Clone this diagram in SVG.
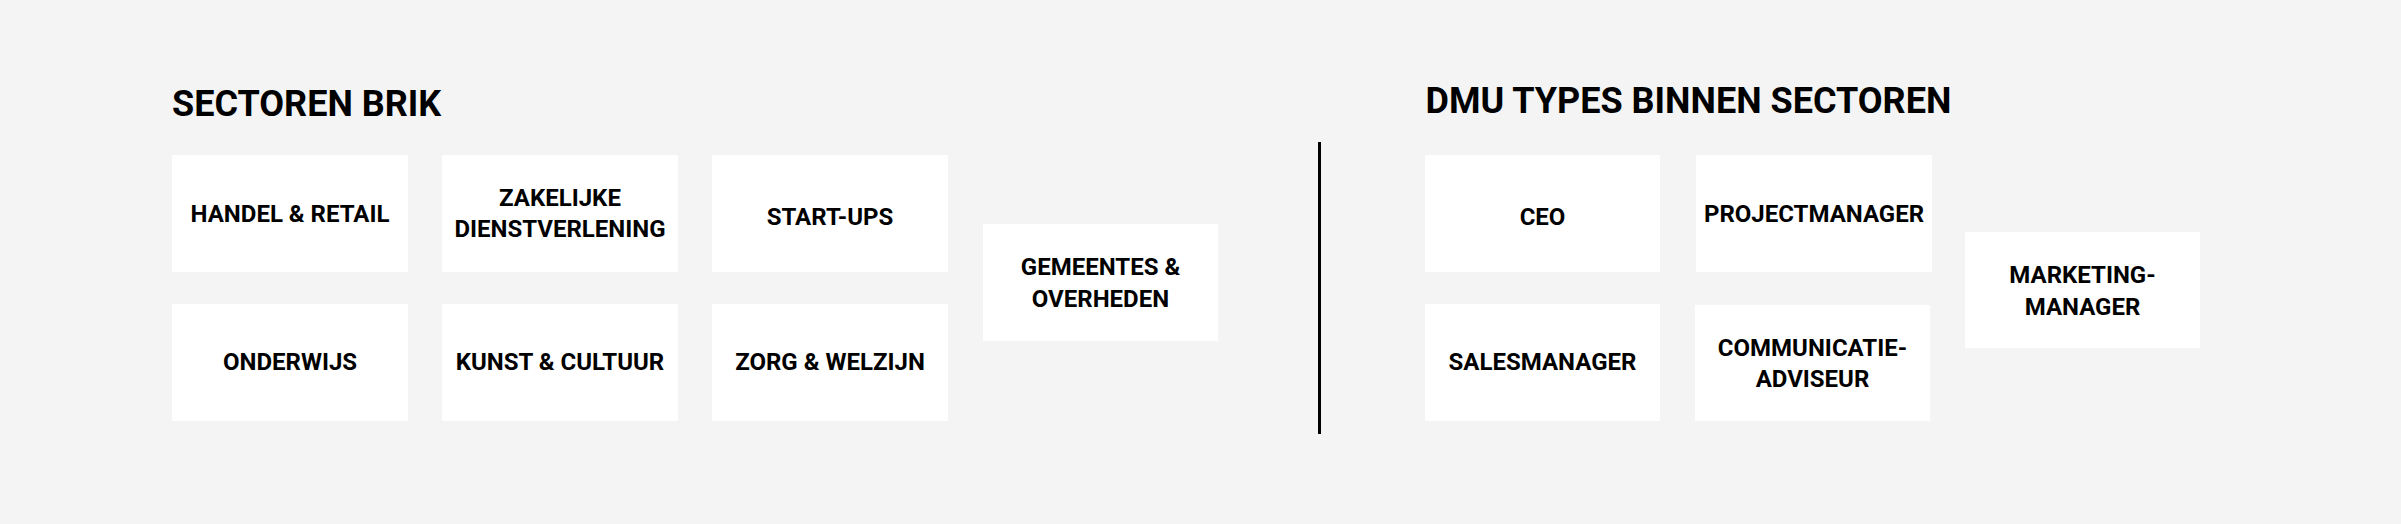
<svg xmlns="http://www.w3.org/2000/svg" width="2401" height="524" viewBox="0 0 2401 524">
  <style>
    .bg { fill: #f4f4f4; }
    .box { fill: #ffffff; }
    .title { font-family: Roboto, "Liberation Sans", sans-serif; font-weight: 700; font-size: 36px; fill: #000000; }
    .lbl { font-family: Roboto, "Liberation Sans", sans-serif; font-weight: 700; font-size: 24px; fill: #000000; text-anchor: middle; }
    .divider { stroke: #000000; stroke-width: 3; }
  </style>
  <rect class="bg" x="0" y="0" width="2401" height="524"/>

  <g id="title-sectoren"><text class="title" x="172" y="115.7">SECTOREN BRIK</text></g>
  <g id="title-dmu"><text class="title" x="1425.5" y="112.7">DMU TYPES BINNEN SECTOREN</text></g>

  <g id="connectors">
    <line class="divider" x1="1319.5" y1="142" x2="1319.5" y2="434"/>
  </g>

  <g id="node-handel">
    <rect class="box" x="172" y="155" width="236" height="117"/>
    <text class="lbl" x="290" y="221.7">HANDEL &amp; RETAIL</text>
  </g>
  <g id="node-zakelijke">
    <rect class="box" x="442" y="155" width="236" height="117"/>
    <text class="lbl" x="560" y="206">ZAKELIJKE</text>
    <text class="lbl" x="560" y="237.3">DIENSTVERLENING</text>
  </g>
  <g id="node-startups">
    <rect class="box" x="712" y="155" width="236" height="117"/>
    <text class="lbl" x="830" y="225">START-UPS</text>
  </g>
  <g id="node-onderwijs">
    <rect class="box" x="172" y="304" width="236" height="117"/>
    <text class="lbl" x="290" y="370">ONDERWIJS</text>
  </g>
  <g id="node-kunst">
    <rect class="box" x="442" y="304" width="236" height="117"/>
    <text class="lbl" x="560" y="370">KUNST &amp; CULTUUR</text>
  </g>
  <g id="node-zorg">
    <rect class="box" x="712" y="304" width="236" height="117"/>
    <text class="lbl" x="830" y="370">ZORG &amp; WELZIJN</text>
  </g>
  <g id="node-gemeentes">
    <rect class="box" x="983" y="224" width="235" height="117"/>
    <text class="lbl" x="1100.5" y="275">GEMEENTES &amp;</text>
    <text class="lbl" x="1100.5" y="307.3">OVERHEDEN</text>
  </g>

  <g id="node-ceo">
    <rect class="box" x="1425" y="155" width="235" height="117"/>
    <text class="lbl" x="1542.5" y="225">CEO</text>
  </g>
  <g id="node-projectmanager">
    <rect class="box" x="1696" y="155" width="236" height="117"/>
    <text class="lbl" x="1814" y="221.7">PROJECTMANAGER</text>
  </g>
  <g id="node-salesmanager">
    <rect class="box" x="1425" y="304" width="235" height="117"/>
    <text class="lbl" x="1542.5" y="370">SALESMANAGER</text>
  </g>
  <g id="node-communicatie">
    <rect class="box" x="1695" y="305" width="235" height="116"/>
    <text class="lbl" x="1812.5" y="355.7">COMMUNICATIE-</text>
    <text class="lbl" x="1812.5" y="386.7">ADVISEUR</text>
  </g>
  <g id="node-marketing">
    <rect class="box" x="1965" y="232" width="235" height="116"/>
    <text class="lbl" x="2082.5" y="282.7">MARKETING-</text>
    <text class="lbl" x="2082.5" y="315">MANAGER</text>
  </g>
</svg>
